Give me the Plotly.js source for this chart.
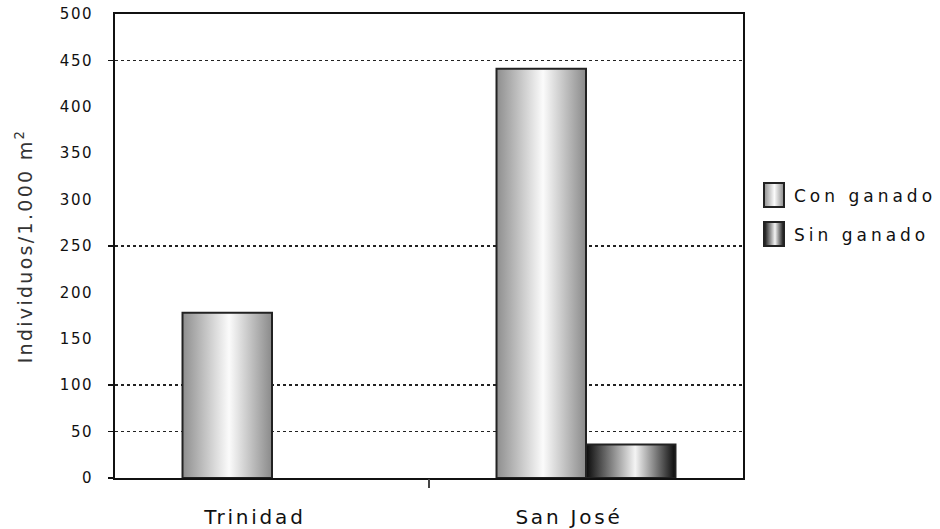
<!DOCTYPE html>
<html><head><meta charset="utf-8">
<script src="https://cdn.plot.ly/plotly-3.0.1.min.js"></script>
<style>
html,body{margin:0;padding:0;background:#fff;}
#chart{width:940px;height:529px;}
.legendtext{letter-spacing:4px;}
.xtick text{letter-spacing:2.8px;}
.ytick text{letter-spacing:1.5px;}
.ytitle{letter-spacing:2.3px;}
</style></head>
<body>
<svg width="0" height="0" style="position:absolute">
<defs>
<linearGradient id="gCon" x1="0" y1="0" x2="1" y2="0">
<stop offset="0" stop-color="#8e8e8e"/>
<stop offset="0.52" stop-color="#fbfbfb"/>
<stop offset="1" stop-color="#8a8a8a"/>
</linearGradient>
<linearGradient id="gSin" x1="0" y1="0" x2="1" y2="0">
<stop offset="0" stop-color="#0a0a0a"/>
<stop offset="0.55" stop-color="#f4f4f4"/>
<stop offset="1" stop-color="#0a0a0a"/>
</linearGradient>
</defs></svg>
<div id="chart"></div>
<script>
const categories = ["Trinidad", "San José"];
const conGanado = [178, 441];
const sinGanado = [null, 36];
const seriesNames = ["Con ganado", "Sin ganado"];
const yTicks = [0, 50, 100, 150, 200, 250, 300, 350, 400, 450, 500];
const gridVals = [0, 50, 100, 250, 450];
const xSepTicks = [0.5];

const traces = [
  {type:'bar', name:seriesNames[0], legendgroup:'a', x:categories, y:conGanado,
   marker:{color:'#cfcfcf', line:{color:'#222', width:2}}, hoverinfo:'skip'},
  {type:'bar', name:seriesNames[1], legendgroup:'b', x:categories, y:sinGanado,
   marker:{color:'#555', line:{color:'#222', width:2}}, hoverinfo:'skip'},
  {type:'scatter', x:[], y:[], xaxis:'x2', yaxis:'y2', showlegend:false, hoverinfo:'skip'}
];

const layout = {
  width:940, height:529,
  margin:{l:115, r:197, t:14, b:51, autoexpand:false},
  paper_bgcolor:'#fff', plot_bgcolor:'#fff',
  barmode:'group', bargap:0.43, bargroupgap:0,
  showlegend:true,
  legend:{x:1.0175, y:0.648, xanchor:'left', yanchor:'top', traceorder:'grouped',
    font:{family:'DejaVu Sans, Liberation Sans, sans-serif', size:17, color:'#111'},
    itemwidth:30, tracegroupgap:14},
  font:{family:'Liberation Sans, Arial, sans-serif', color:'#111'},
  xaxis:{type:'category', range:[-0.5,1.5], showline:true, mirror:true, linecolor:'#111', linewidth:2,
    ticks:'', showgrid:false, zeroline:false, ticklabelstandoff:20, ticklabelshift:-17,
    tickfont:{family:'DejaVu Sans, sans-serif', size:20, color:'#111'}},
  xaxis2:{overlaying:'x', range:[-0.5,1.5], tickvals:xSepTicks, showticklabels:false,
    ticks:'outside', ticklen:9, tickcolor:'#444', tickwidth:2, showgrid:false, zeroline:false, showline:false},
  yaxis:{range:[0,500], tickvals:yTicks, ticks:'', showline:true, mirror:true, linecolor:'#111', linewidth:2,
    showgrid:false, zeroline:false, ticklabelstandoff:17,
    tickfont:{family:'DejaVu Sans, sans-serif', size:15, color:'#111'},
    title:{text:'Individuos/1.000 m<sup>2</sup>', standoff:22,
      font:{family:'DejaVu Sans, sans-serif', size:19, color:'#333'}}},
  yaxis2:{overlaying:'y', side:'left', range:[0,500], tickvals:gridVals, showticklabels:false,
    ticks:'outside', ticklen:6, tickcolor:'#111', tickwidth:1.5,
    showgrid:true, gridcolor:'#222', gridwidth:1.5, griddash:'dot', zeroline:false, showline:false}
};

function applyGradients(){
  const ids = ['gCon','gSin'];
  document.querySelectorAll('.barlayer .trace').forEach((g,i)=>{
    g.querySelectorAll('path').forEach(p=>{ p.style.fill='url(#'+ids[i]+')'; });
  });
  document.querySelectorAll('.legend .traces').forEach((g,i)=>{
    g.querySelectorAll('.legendpoints path').forEach(p=>{
      p.style.fill='url(#'+ids[i]+')';
      p.setAttribute('d','M10,12H-10V-12H10Z');
      p.style.strokeWidth='2px';
    });
  });
}
Plotly.newPlot('chart', traces, layout, {displayModeBar:false, staticPlot:true}).then(applyGradients);
</script>
</body></html>
